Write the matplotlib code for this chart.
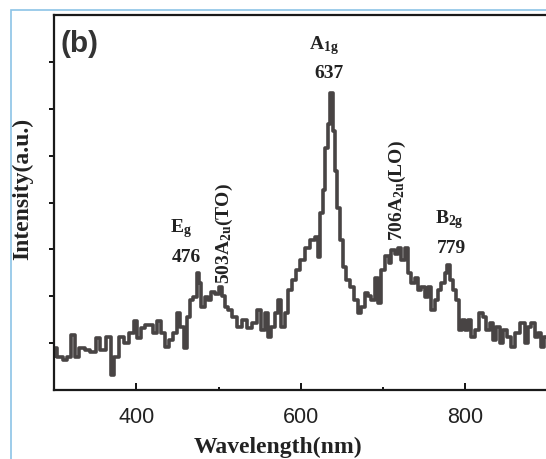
import matplotlib
matplotlib.use("Agg")
import matplotlib.pyplot as plt
from matplotlib.patches import Rectangle

plt.rcParams['mathtext.fontset'] = 'custom'
plt.rcParams['mathtext.rm'] = 'Liberation Serif:bold'
plt.rcParams['mathtext.it'] = 'Liberation Serif:bold'
plt.rcParams['mathtext.bf'] = 'Liberation Serif:bold'

# Raman spectrum (wavelength axis, arbitrary intensity)
wavelength = [
    300.0, 301.2, 307.3, 313.4, 319.4, 323.1, 327.9, 334.0, 341.3, 347.4,
    353.5, 359.5, 368.0, 370.5, 376.5, 382.6, 388.7, 394.8, 399.6, 403.3,
    408.1, 413.0, 419.1, 422.7, 428.8, 432.4, 437.3, 442.2, 447.0, 451.9,
    455.5, 460.4, 464.0, 467.7, 471.3, 476.0, 477.4, 481.0, 485.9, 489.5,
    493.2, 498.1, 503.0, 506.6, 508.8, 513.9, 519.9, 526.0, 532.1, 538.2,
    544.2, 550.3, 554.0, 558.8, 562.5, 566.1, 571.0, 574.6, 578.3, 583.1,
    586.8, 592.8, 596.5, 602.6, 608.6, 614.7, 619.6, 622.0, 625.6, 628.1,
    631.7, 634.1, 637.0, 640.2, 642.6, 645.1, 649.9, 653.6, 657.2, 662.1,
    668.2, 671.8, 675.5, 680.3, 684.0, 687.6, 692.5, 696.1, 699.8, 706.0,
    708.3, 711.9, 716.8, 720.4, 724.1, 728.9, 732.6, 736.2, 741.1, 744.7,
    748.4, 753.2, 756.9, 760.5, 765.4, 769.0, 772.7, 777.5, 779.0, 783.6,
    787.2, 790.9, 794.5, 797.0, 801.8, 805.5, 809.1, 814.0, 818.8, 823.7,
    827.3, 832.2, 835.8, 839.5, 844.3, 848.0, 854.1, 857.7, 863.8, 869.9,
    874.7, 878.4, 882.0, 886.9, 890.5, 894.2, 897.8,
]
intensity = [
    0.72, 0.90, 0.70, 0.64, 0.70, 1.17, 0.70, 0.89, 0.85, 0.81,
    1.10, 0.85, 1.13, 0.32, 0.70, 1.13, 1.00, 1.21, 1.47, 1.10,
    1.32, 1.38, 1.38, 1.21, 1.47, 1.21, 0.91, 1.06, 1.21, 1.64,
    1.34, 0.89, 1.55, 1.91, 1.98, 2.49, 2.28, 1.77, 1.98, 1.91,
    2.09, 2.05, 2.19, 2.00, 1.77, 1.70, 1.55, 1.34, 1.49, 1.32,
    1.43, 1.70, 1.28, 1.64, 1.13, 1.34, 1.64, 1.91, 1.34, 1.64,
    2.13, 2.34, 2.55, 2.77, 3.04, 3.19, 3.26, 2.83, 3.77, 4.26,
    5.17, 5.68, 6.34, 5.53, 4.68, 3.89, 3.19, 2.62, 2.34, 2.19,
    1.91, 1.64, 1.77, 2.06, 2.00, 1.91, 2.40, 1.85, 2.55, 2.86,
    2.70, 2.98, 2.91, 3.04, 2.77, 3.02, 2.49, 2.28, 2.40, 2.13,
    2.19, 1.98, 2.19, 1.70, 1.91, 2.13, 2.28, 2.49, 2.66, 2.34,
    2.13, 1.91, 1.28, 1.49, 1.28, 1.49, 1.13, 1.28, 1.64, 1.55,
    1.28, 1.43, 1.06, 1.34, 1.00, 1.28, 1.13, 0.91, 1.21, 1.43,
    1.00, 1.34, 1.43, 1.13, 1.21, 0.91, 1.13,
]

# peak assignments and the spots where their labels sit
peak_modes = ['E$_{g}$', 'A$_{1g}$', 'B$_{2g}$']
peak_mode_x = [454.9, 628.0, 780.6]
peak_mode_y = [3.37, 7.26, 3.56]
peak_nums = ['476', '637', '779']
peak_num_x = [461.0, 634.1, 783.6]
peak_num_y = [2.73, 6.66, 2.92]
a2u_labels = ['503A$_{2u}$(TO)', '706A$_{2u}$(LO)']
a2u_x = [506.6, 718.0]
a2u_y = [3.33, 4.25]

fig = plt.figure(figsize=(5.46, 4.59), dpi=100)
ax = fig.add_axes([54 / 546, 69 / 459, 492 / 546, 375 / 459])

# stepped trace, like the detector output
ax.plot(wavelength, intensity, color='#484444', lw=2.6, drawstyle='steps-mid')

ax.set_xlim(300, 898)
ax.set_ylim(0, 8)
ax.set_xticks([400, 600, 800])
ax.set_xticks([500, 700], minor=True)
ax.set_yticks(range(1, 8))
ax.tick_params(axis='x', which='major', direction='in', length=5, width=1.3,
               pad=12, labelsize=15.5)
ax.tick_params(axis='x', which='minor', direction='in', length=2, width=1.3)
ax.tick_params(axis='y', direction='out', length=3.5, width=1.3, labelleft=False)
for lab in ax.get_xticklabels():
    lab.set_fontfamily('Liberation Sans')
    lab.set_color('#222222')

for side in ['left', 'bottom', 'top']:
    ax.spines[side].set_linewidth(1.6)
    ax.spines[side].set_color('#1a1a1a')
ax.spines['right'].set_visible(False)

serif = dict(family='Liberation Serif', weight='bold', color='#222222')
for t, x, y in zip(peak_modes, peak_mode_x, peak_mode_y):
    ax.text(x, y, t, fontsize=14, ha='center', va='baseline', **serif)
for t, x, y in zip(peak_nums, peak_num_x, peak_num_y):
    ax.text(x, y, t, fontsize=14, ha='center', va='baseline', **serif)
for t, x, y in zip(a2u_labels, a2u_x, a2u_y):
    ax.text(x, y, t, fontsize=14, ha='center', va='center', rotation=90, **serif)

ax.text(307.3, 7.68, '(b)', fontsize=21.5, fontweight='bold', family='Liberation Sans',
        color='#333333', ha='left', va='top')

fig.text(23 / 546, 0.589, 'Intensity(a.u.)', rotation=90, ha='center', va='center',
         fontsize=17, **serif)
fig.text(278 / 546, 6 / 459, 'Wavelength(nm)', ha='center', va='baseline',
         fontsize=17, **serif)

# thin frame around the panel
fig.patches.append(Rectangle((10.5 / 546, -0.2), 1.5, 0.2 + 448.5 / 459,
                             transform=fig.transFigure, fill=False,
                             edgecolor='#8cc4e6', lw=1.2))

fig.savefig('out.png', dpi=100)
